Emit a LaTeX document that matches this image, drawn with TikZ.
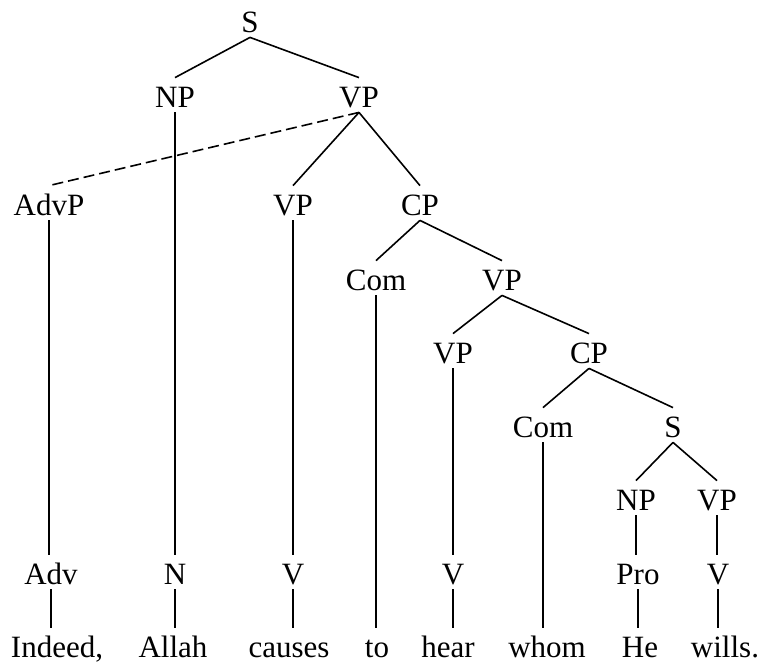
\documentclass[tikz,border=0pt]{standalone}
\usepackage{fontspec}
\setmainfont{Liberation Serif}
\begin{document}
\begin{tikzpicture}[x=0.5pt, y=-0.5pt,
        cat/.style={inner sep=0pt, text height=14.5pt, text depth=2.5pt, anchor=base, font=\fontsize{15.5}{18}\selectfont},
        edge/.style={line width=0.8pt},
        moved/.style={line width=0.8pt, dash pattern=on 5.5pt off 2.5pt}]

    % 固定画布大小
    \useasboundingbox (0,0) rectangle (761,666);

    % 上层结点
    \node[cat] (s) at (250,32) {S};
    \node[cat] (np) at (175,107) {NP};
    \node[cat] (vp) at (359,107) {VP};

    \node[cat] (advp) at (49,215) {AdvP};
    \node[cat] (vpa) at (293,215) {VP};
    \node[cat] (cpa) at (420,215) {CP};

    \node[cat] (coma) at (376,290) {Com};
    \node[cat] (vpb) at (502,290) {VP};

    \node[cat] (vpc) at (453,363) {VP};
    \node[cat] (cpb) at (589,363) {CP};

    \node[cat] (comb) at (543,437) {Com};
    \node[cat] (sb) at (673,437) {S};

    \node[cat] (npb) at (636,510) {NP};
    \node[cat] (vpd) at (717,510) {VP};

    % 词类
    \node[cat] (adv) at (51,584) {Adv};
    \node[cat] (n) at (175,584) {N};
    \node[cat] (va) at (293,584) {V};
    \node[cat] (vb) at (453,584) {V};
    \node[cat] (pro) at (638,584) {Pro};
    \node[cat] (vc) at (718,584) {V};

    % 词
    \node[cat] (w1) at (57,657) {Indeed,};
    \node[cat] (w2) at (173,657) {Allah};
    \node[cat] (w3) at (289,657) {causes};
    \node[cat] (w4) at (377,657) {to};
    \node[cat] (w5) at (448,657) {hear};
    \node[cat] (w6) at (547,657) {whom};
    \node[cat] (w7) at (640,657) {He};
    \node[cat] (w8) at (725,657) {wills.};

    % 树枝
    \draw[edge] (s.south) -- (np.north);
    \draw[edge] (s.south) -- (vp.north);
    \draw[moved] (vp.south) -- (advp.north); % 虚线
    \draw[edge] (vp.south) -- (vpa.north);
    \draw[edge] (vp.south) -- (cpa.north);
    \draw[edge] (cpa.south) -- (coma.north);
    \draw[edge] (cpa.south) -- (vpb.north);
    \draw[edge] (vpb.south) -- (vpc.north);
    \draw[edge] (vpb.south) -- (cpb.north);
    \draw[edge] (cpb.south) -- (comb.north);
    \draw[edge] (cpb.south) -- (sb.north);
    \draw[edge] (sb.south) -- (npb.north);
    \draw[edge] (sb.south) -- (vpd.north);

    % 竖线
    \draw[edge] (advp.south) -- (advp.south |- adv.north);
    \draw[edge] (np.south) -- (n.north);
    \draw[edge] (vpa.south) -- (va.north);
    \draw[edge] (vpc.south) -- (vb.north);
    \draw[edge] (npb.south) -- (npb.south |- pro.north);
    \draw[edge] (vpd.south) -- (vpd.south |- vc.north);

    \draw[edge] (adv.south) -- (adv.south |- w1.north);
    \draw[edge] (n.south) -- (n.south |- w2.north);
    \draw[edge] (va.south) -- (va.south |- w3.north);
    \draw[edge] (coma.south) -- (coma.south |- w4.north);
    \draw[edge] (vb.south) -- (vb.south |- w5.north);
    \draw[edge] (comb.south) -- (comb.south |- w6.north);
    \draw[edge] (pro.south) -- (pro.south |- w7.north);
    \draw[edge] (vc.south) -- (vc.south |- w8.north);

\end{tikzpicture}
\end{document}
